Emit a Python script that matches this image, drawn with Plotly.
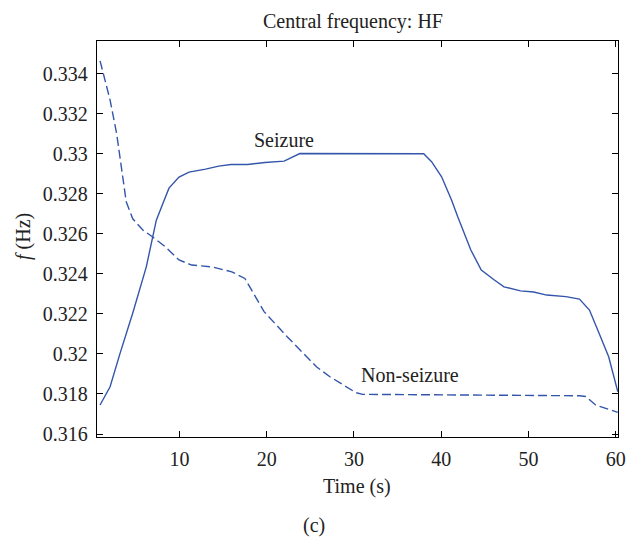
import plotly.graph_objects as go

# ---- data ----
seizure_t = [0.9, 2.05, 3.2, 4.65, 6.2, 7.35, 8.25, 8.8, 9.95, 11.1, 13.0, 14.5, 15.9, 17.8,
             19.8, 22.0, 23.8, 38.0, 38.9, 40.05, 41.2, 41.9, 43.4, 44.6, 46.1, 47.2, 49.1,
             50.6, 52.1, 54.3, 55.85, 57.0, 58.1, 59.2, 60.25]
seizure_f = [0.31745, 0.31836, 0.32004, 0.32204, 0.32435, 0.32668, 0.32768, 0.32828, 0.32883,
             0.32908, 0.32923, 0.32938, 0.32946, 0.32946, 0.32956, 0.32963, 0.33001, 0.33000,
             0.32960, 0.32885, 0.32768, 0.32685, 0.32519, 0.32419, 0.32369, 0.32335, 0.32315,
             0.32309, 0.32294, 0.32286, 0.32274, 0.32219, 0.32103, 0.31986, 0.31811]

nonseizure_t = [0.9, 2.05, 2.8, 3.9, 4.65, 5.8, 6.9, 8.4, 9.95, 11.4, 13.7, 16.0, 17.5, 19.7,
                22.35, 25.7, 27.25, 30.25, 31.0, 43.4, 44.5, 55.85, 56.6, 57.7, 59.2, 60.25]
nonseizure_f = [0.33464, 0.33268, 0.33101, 0.32760, 0.32675, 0.32619, 0.32585, 0.32535, 0.32469,
                0.32444, 0.32435, 0.32410, 0.32377, 0.32211, 0.32086, 0.31936, 0.31886, 0.31806,
                0.31798, 0.31795, 0.31791, 0.31791, 0.31787, 0.31745, 0.31723, 0.31708]

x_ticks = [10, 20, 30, 40, 50, 60]
x_ticklabels = ["10", "20", "30", "40", "50", "60"]
y_ticks = [0.316, 0.318, 0.320, 0.322, 0.324, 0.326, 0.328, 0.330, 0.332, 0.334]
y_ticklabels = ["0.316", "0.318", "0.32", "0.322", "0.324", "0.326", "0.328", "0.33", "0.332", "0.334"]

title_text = "Central frequency: HF"
x_title = "Time (s)"
y_title = "<i>f</i> (Hz)"
panel_label = "(c)"
label_seizure = "Seizure"
label_nonseizure = "Non-seizure"

LINE_COLOR = "#3355aa"
FONT = "Liberation Serif"
FS = 20
TXT = "#222222"

fig = go.Figure()
fig.add_trace(go.Scatter(x=seizure_t, y=seizure_f, mode="lines",
                         line=dict(color=LINE_COLOR, width=1.4), name="Seizure"))
fig.add_trace(go.Scatter(x=nonseizure_t, y=nonseizure_f, mode="lines",
                         line=dict(color=LINE_COLOR, width=1.4, dash="9px,4px"), name="Non-seizure"))

axis_common = dict(showgrid=False, zeroline=False, showline=True, linecolor="black", linewidth=1.3,
                   mirror="ticks", ticks="inside", ticklen=6, tickwidth=1.2, tickcolor="black",
                   ticklabeloverflow="allow",
                   tickfont=dict(family=FONT, size=FS, color=TXT))

# page body has an 8px default margin; plot area spans x 97..626, y 41..437 in the window
fig.update_layout(
    width=627, height=530,
    margin=dict(l=89, r=9, t=33, b=101),
    paper_bgcolor="white", plot_bgcolor="white",
    showlegend=False,
    font=dict(family=FONT, size=FS, color=TXT),
    xaxis=dict(range=[0.55, 60.27], tickmode="array", tickvals=x_ticks, ticktext=x_ticklabels,
               ticklabelstandoff=4, **axis_common),
    yaxis=dict(range=[0.31585, 0.33563], tickmode="array", tickvals=y_ticks, ticktext=y_ticklabels,
               ticklabelstandoff=4, **axis_common),
    annotations=[
        dict(text=title_text, x=0.4915, y=1.0487, xref="paper", yref="paper", showarrow=False,
             font=dict(family=FONT, size=FS, color=TXT), xanchor="center", yanchor="middle"),
        dict(text=x_title, x=0.4995, y=-0.1244, xref="paper", yref="paper", showarrow=False,
             font=dict(family=FONT, size=FS, color=TXT), xanchor="center", yanchor="middle"),
        dict(text=y_title, x=-0.142, y=0.505, xref="paper", yref="paper", showarrow=False,
             textangle=-90, font=dict(family=FONT, size=FS, color=TXT),
             xanchor="center", yanchor="middle"),
        dict(text=panel_label, x=(317 - 97) / 529, y=(437 - 525) / 396, xref="paper", yref="paper",
             showarrow=False, font=dict(family=FONT, size=FS, color=TXT),
             xanchor="center", yanchor="middle"),
        dict(text=label_seizure, x=22.0, y=0.33068, xref="x", yref="y", showarrow=False,
             font=dict(family=FONT, size=FS, color=TXT), xanchor="center", yanchor="middle"),
        dict(text=label_nonseizure, x=36.45, y=0.31895, xref="x", yref="y", showarrow=False,
             font=dict(family=FONT, size=FS, color=TXT), xanchor="center", yanchor="middle"),
    ],
)

fig.write_html("out.html")
